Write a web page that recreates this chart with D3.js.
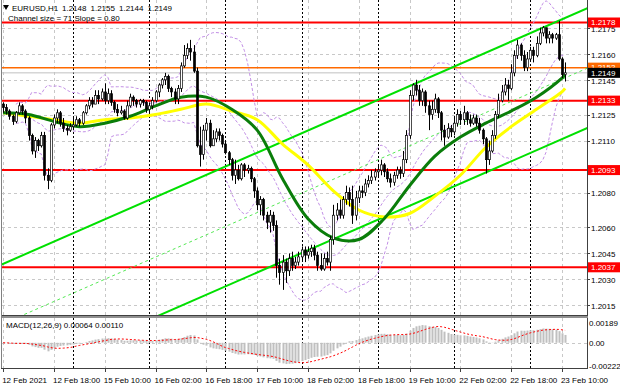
<!DOCTYPE html>
<html>
<head>
<meta charset="utf-8">
<title>EURUSD,H1</title>
<style>
  body { margin: 0; background: #fff; }
  svg { display: block; font-family: "Liberation Sans", Arial, sans-serif; }
</style>
<script src="https://d3js.org/d3.v7.min.js"></script>
</head>
<body>
<script>
// EURUSD H1, one value per hourly bar, 12 Feb 02:00 .. 23 Feb 11:00
var firstOpen = 1.2131;
var closes = [
  // 12 Feb
  1.2129, 1.2127, 1.2124, 1.2121, 1.2126, 1.2130, 1.2127, 1.2123, 1.2113, 1.2104, 1.2110, 1.2107, 1.2113, 1.2090, 1.2087, 1.2119, 1.2123, 1.2126, 1.2120, 1.2117, 1.2116, 1.2118,
  // 15 Feb
  1.2119, 1.2122, 1.2120, 1.2126, 1.2130, 1.2133, 1.2131, 1.2136, 1.2134, 1.2138, 1.2133, 1.2137, 1.2132, 1.2128, 1.2126, 1.2127, 1.2123, 1.2130, 1.2135, 1.2133, 1.2131, 1.2133, 1.2132, 1.2128,
  // 16 Feb
  1.2130, 1.2133, 1.2138, 1.2142, 1.2145, 1.2147, 1.2140, 1.2138, 1.2134, 1.2140, 1.2153, 1.2159, 1.2163, 1.2161, 1.2150, 1.2107, 1.2102, 1.2116, 1.2120, 1.2107, 1.2111, 1.2115, 1.2113, 1.2108,
  // 17 Feb
  1.2103, 1.2099, 1.2090, 1.2093, 1.2088, 1.2096, 1.2093, 1.2094, 1.2088, 1.2081, 1.2073, 1.2076, 1.2067, 1.2063, 1.2067, 1.2061, 1.2038, 1.2034, 1.2040, 1.2035, 1.2042, 1.2038, 1.2040, 1.2043,
  // 18 Feb
  1.2047, 1.2044, 1.2046, 1.2048, 1.2044, 1.2038, 1.2036, 1.2042, 1.2040, 1.2053, 1.2067, 1.2070, 1.2067, 1.2076, 1.2080, 1.2076, 1.2067, 1.2077, 1.2081, 1.2080, 1.2085, 1.2087, 1.2089, 1.2092,
  // 19 Feb
  1.2093, 1.2096, 1.2092, 1.2088, 1.2086, 1.2090, 1.2093, 1.2091, 1.2099, 1.2113, 1.2136, 1.2142, 1.2139, 1.2133, 1.2138, 1.2130, 1.2125, 1.2128, 1.2134, 1.2126, 1.2116, 1.2112, 1.2117, 1.2115,
  // 22 Feb
  1.2120, 1.2125, 1.2122, 1.2126, 1.2122, 1.2120, 1.2123, 1.2120, 1.2116, 1.2111, 1.2099, 1.2104, 1.2113, 1.2125, 1.2133, 1.2138, 1.2142, 1.2140, 1.2149, 1.2159, 1.2165, 1.2159, 1.2152, 1.2157,
  // 23 Feb
  1.2162, 1.2159, 1.2166, 1.2172, 1.2175, 1.2169, 1.2171, 1.2169, 1.2171, 1.2157, 1.2148, 1.2149
];
var highs = [
  1.2132, 1.2131, 1.2128, 1.2125, 1.2127, 1.2132, 1.2131, 1.2128, 1.2124, 1.2114, 1.2112, 1.2111, 1.2115, 1.2115, 1.2094, 1.2120, 1.2125, 1.2128, 1.2127, 1.2123, 1.2119, 1.2120,
  1.2123, 1.2124, 1.2123, 1.2127, 1.2131, 1.2135, 1.2135, 1.2139, 1.2139, 1.2140, 1.2143, 1.2140, 1.2139, 1.2133, 1.2131, 1.2130, 1.2128, 1.2133, 1.2137, 1.2136, 1.2134, 1.2134, 1.2134, 1.2133,
  1.2132, 1.2135, 1.2139, 1.2143, 1.2146, 1.2149, 1.2148, 1.2141, 1.2140, 1.2142, 1.2155, 1.2165, 1.2166, 1.2168, 1.2165, 1.2152, 1.2118, 1.2119, 1.2123, 1.2122, 1.2116, 1.2117, 1.2117, 1.2114,
  1.2110, 1.2104, 1.2100, 1.2099, 1.2096, 1.2097, 1.2097, 1.2096, 1.2095, 1.2089, 1.2083, 1.2078, 1.2077, 1.2069, 1.2070, 1.2069, 1.2064, 1.2042, 1.2044, 1.2042, 1.2045, 1.2046, 1.2043, 1.2046,
  1.2049, 1.2049, 1.2049, 1.2050, 1.2050, 1.2046, 1.2045, 1.2045, 1.2046, 1.2055, 1.2073, 1.2074, 1.2076, 1.2078, 1.2084, 1.2083, 1.2084, 1.2081, 1.2084, 1.2084, 1.2088, 1.2090, 1.2093, 1.2094,
  1.2096, 1.2099, 1.2097, 1.2094, 1.2091, 1.2092, 1.2095, 1.2095, 1.2104, 1.2116, 1.2139, 1.2143, 1.2145, 1.2142, 1.2140, 1.2139, 1.2133, 1.2133, 1.2137, 1.2135, 1.2127, 1.2119, 1.2120, 1.2119,
  1.2123, 1.2128, 1.2127, 1.2130, 1.2127, 1.2125, 1.2125, 1.2125, 1.2123, 1.2117, 1.2112, 1.2110, 1.2116, 1.2127, 1.2137, 1.2142, 1.2146, 1.2145, 1.2154, 1.2162, 1.2168, 1.2166, 1.2162, 1.2161,
  1.2164, 1.2164, 1.2170, 1.2175, 1.2176, 1.2174, 1.2173, 1.2172, 1.2172, 1.2179, 1.2158, 1.2155
];
var lows = [
  1.2126, 1.2125, 1.2122, 1.2119, 1.2120, 1.2125, 1.2125, 1.2120, 1.2110, 1.2102, 1.2100, 1.2104, 1.2106, 1.2087, 1.2082, 1.2086, 1.2117, 1.2120, 1.2118, 1.2115, 1.2113, 1.2115,
  1.2116, 1.2118, 1.2118, 1.2119, 1.2125, 1.2128, 1.2129, 1.2131, 1.2131, 1.2133, 1.2131, 1.2131, 1.2130, 1.2126, 1.2124, 1.2125, 1.2122, 1.2122, 1.2129, 1.2130, 1.2129, 1.2129, 1.2130, 1.2126,
  1.2126, 1.2128, 1.2132, 1.2135, 1.2140, 1.2142, 1.2138, 1.2135, 1.2131, 1.2131, 1.2138, 1.2152, 1.2157, 1.2156, 1.2149, 1.2106, 1.2095, 1.2099, 1.2110, 1.2106, 1.2107, 1.2109, 1.2110, 1.2106,
  1.2102, 1.2096, 1.2087, 1.2085, 1.2087, 1.2087, 1.2089, 1.2091, 1.2086, 1.2077, 1.2070, 1.2067, 1.2064, 1.2059, 1.2057, 1.2058, 1.2031, 1.2027, 1.2024, 1.2028, 1.2032, 1.2035, 1.2036, 1.2038,
  1.2041, 1.2040, 1.2042, 1.2043, 1.2041, 1.2035, 1.2035, 1.2035, 1.2038, 1.2035, 1.2050, 1.2064, 1.2065, 1.2065, 1.2073, 1.2072, 1.2062, 1.2064, 1.2074, 1.2077, 1.2078, 1.2083, 1.2085, 1.2087,
  1.2089, 1.2090, 1.2089, 1.2086, 1.2083, 1.2084, 1.2088, 1.2088, 1.2089, 1.2097, 1.2111, 1.2133, 1.2136, 1.2130, 1.2130, 1.2126, 1.2116, 1.2122, 1.2126, 1.2123, 1.2110, 1.2107, 1.2111, 1.2112,
  1.2113, 1.2118, 1.2119, 1.2119, 1.2119, 1.2118, 1.2119, 1.2118, 1.2114, 1.2108, 1.2091, 1.2096, 1.2103, 1.2111, 1.2123, 1.2132, 1.2136, 1.2133, 1.2139, 1.2147, 1.2157, 1.2156, 1.2150, 1.2150,
  1.2156, 1.2155, 1.2158, 1.2165, 1.2170, 1.2166, 1.2166, 1.2166, 1.2168, 1.2156, 1.2146, 1.2144
];

// moving averages every 8 bars (plus the last bar)
var maBars = [0, 8, 16, 24, 32, 40, 48, 56, 64, 72, 80, 88, 96, 104, 112, 120, 128, 136, 144, 152, 160, 168, 176, 177];
var ma30 = [1.2126, 1.2125, 1.2121, 1.2118, 1.2120, 1.2124, 1.2130, 1.2135, 1.2135, 1.2128, 1.2116, 1.2088, 1.2065, 1.2054, 1.2053, 1.2065, 1.2084, 1.2101, 1.2112, 1.2120, 1.2127, 1.2135, 1.2146, 1.2148];
var ma50 = [1.2126, 1.2124, 1.2122, 1.2120, 1.2122, 1.2123, 1.2125, 1.2128, 1.2131, 1.2127, 1.2122, 1.2108, 1.2096, 1.2081, 1.2070, 1.2066, 1.2068, 1.2078, 1.2090, 1.2106, 1.2118, 1.2128, 1.2138, 1.2140];

// horizontal levels
var redLevels = [1.2178, 1.2133, 1.2093, 1.2037];
var orangeLevel = 1.2152;
var bidPrice = 1.2149;

// regression channel: top line at bar 0, slope per bar, width
var channelStart = 1.2039, channelSlope = 0.00008, channelWidth = 0.0069;

var priceTicks = [1.2175, 1.2160, 1.2145, 1.2125, 1.2110, 1.2080, 1.2060, 1.2045, 1.2030, 1.2015];
var timeTickBars = [0, 16, 32, 48, 64, 80, 96, 112, 128, 144, 160, 176];
var timeLabels = ["12 Feb 2021", "12 Feb 18:00", "15 Feb 10:00", "16 Feb 02:00", "16 Feb 18:00", "17 Feb 10:00",
                  "18 Feb 02:00", "18 Feb 18:00", "19 Feb 10:00", "22 Feb 02:00", "22 Feb 18:00", "23 Feb 10:00"];
var dayStartBars = [22, 46, 70, 94, 118, 142, 166];
var macdTicks = [0.00189, 0, -0.00222];
var macdTickLabels = ["0.00189", "0.00", "-0.00222"];

var W = 620, H = 388;
var left = 2, right = 587, mainBottom = 315, macdTop = 318, macdBottom = 368;

var svg = d3.select("body").append("svg").attr("width", W).attr("height", H);

var x = d3.scaleLinear().domain([0, 177]).range([3.15, 565.1]);
var y = d3.scaleLinear().domain([1.2037, 1.2178]).range([267.3, 22.5]);
var ym = d3.scaleLinear().domain([-0.00222, 0.00189]).range([366, 323]);

var defs = svg.append("defs");
defs.append("clipPath").attr("id", "mainClip").append("rect")
  .attr("x", left).attr("y", 0).attr("width", right - left).attr("height", mainBottom);
defs.append("clipPath").attr("id", "macdClip").append("rect")
  .attr("x", left).attr("y", macdTop).attr("width", right - left).attr("height", macdBottom - macdTop);

var bars = closes.map(function(c, i) {
  var o = i === 0 ? firstOpen : closes[i - 1];
  return { i: i, o: o, c: c, h: Math.max(highs[i], o, c), l: Math.min(lows[i], o, c) };
});

// ---- grids
var grid = svg.append("g");
grid.selectAll(".hg").data(priceTicks).enter().append("line")
  .attr("x1", left).attr("x2", right)
  .attr("y1", function(d) { return Math.round(y(d)) + 0.5; })
  .attr("y2", function(d) { return Math.round(y(d)) + 0.5; })
  .attr("stroke", "#c8c8c8").attr("stroke-dasharray", "3,3");
grid.append("line").attr("x1", left).attr("x2", right)
  .attr("y1", Math.round(ym(0)) + 0.5).attr("y2", Math.round(ym(0)) + 0.5)
  .attr("stroke", "#c8c8c8").attr("stroke-dasharray", "3,3");
[[0, mainBottom], [macdTop, macdBottom]].forEach(function(span) {
  grid.selectAll(null).data(timeTickBars).enter().append("line")
    .attr("x1", function(d) { return Math.round(x(d)) + 0.5; })
    .attr("x2", function(d) { return Math.round(x(d)) + 0.5; })
    .attr("y1", span[0]).attr("y2", span[1])
    .attr("stroke", "#c8c8c8").attr("stroke-dasharray", "3,3");
  grid.selectAll(null).data(dayStartBars).enter().append("line")
    .attr("x1", function(d) { return Math.round(x(d)) + 0.5; })
    .attr("x2", function(d) { return Math.round(x(d)) + 0.5; })
    .attr("y1", span[0]).attr("y2", span[1])
    .attr("stroke", "#000").attr("stroke-dasharray", "2,2");
});

var main = svg.append("g").attr("clip-path", "url(#mainClip)");

// ---- bid line and levels
main.append("line").attr("x1", left).attr("x2", right)
  .attr("y1", y(bidPrice)).attr("y2", y(bidPrice)).attr("stroke", "#c0c0c0");
main.append("line").attr("x1", left).attr("x2", right)
  .attr("y1", y(orangeLevel)).attr("y2", y(orangeLevel))
  .attr("stroke", "#ff6a00").attr("stroke-width", 1.5);
main.selectAll(".lvl").data(redLevels).enter().append("line")
  .attr("x1", left).attr("x2", right)
  .attr("y1", function(d) { return y(d); }).attr("y2", function(d) { return y(d); })
  .attr("stroke", "#ff0000").attr("stroke-width", 2);

// ---- Bollinger bands (20, 2) from the closes
var bb = bars.map(function(d, i) {
  var win = closes.slice(Math.max(0, i - 19), i + 1);
  var m = d3.mean(win);
  var sd = Math.sqrt(d3.mean(win, function(v) { return (v - m) * (v - m); }));
  return { i: i, mid: m, up: m + 2 * sd, lo: m - 2 * sd };
}).filter(function(d) { return d.i >= 4; });
["up", "mid", "lo"].forEach(function(k) {
  main.append("path").datum(bb)
    .attr("d", d3.line().x(function(d) { return x(d.i); }).y(function(d) { return y(d[k]); }))
    .attr("fill", "none").attr("stroke", "#c28fe6").attr("stroke-dasharray", "3,2");
});

// ---- channel
var chan = function(off) {
  return d3.line().x(function(b) { return x(b); })
    .y(function(b) { return y(channelStart + channelSlope * b - off); })([-2, 185]);
};
main.append("path").attr("d", chan(0)).attr("stroke", "#00e000").attr("stroke-width", 2);
main.append("path").attr("d", chan(channelWidth)).attr("stroke", "#00e000").attr("stroke-width", 2);
main.append("path").attr("d", chan(channelWidth / 2)).attr("stroke", "#55e855")
  .attr("stroke-dasharray", "3,3");

// ---- moving averages
var maLine = function(vals) {
  return d3.line().curve(d3.curveCatmullRom.alpha(0.5))
    .x(function(d, i) { return x(maBars[i]); }).y(function(d) { return y(d); })(vals);
};
main.append("path").attr("d", maLine(ma50)).attr("fill", "none")
  .attr("stroke", "#ffff00").attr("stroke-width", 3);
main.append("path").attr("d", maLine(ma30)).attr("fill", "none")
  .attr("stroke", "#0a7d0a").attr("stroke-width", 3);

// ---- candles
var cg = main.append("g");
cg.selectAll(".wick").data(bars).enter().append("line")
  .attr("x1", function(d) { return Math.round(x(d.i)) + 0.5; })
  .attr("x2", function(d) { return Math.round(x(d.i)) + 0.5; })
  .attr("y1", function(d) { return y(d.h); }).attr("y2", function(d) { return y(d.l); })
  .attr("stroke", "#000");
cg.selectAll(".body").data(bars).enter().append("rect")
  .attr("x", function(d) { return Math.round(x(d.i)) - 0.5; })
  .attr("width", 2)
  .attr("y", function(d) { return y(Math.max(d.o, d.c)); })
  .attr("height", function(d) { return Math.max(1, Math.abs(y(d.o) - y(d.c))); })
  .attr("fill", function(d) { return d.c >= d.o ? "#fff" : "#000"; })
  .attr("stroke", "#000").attr("stroke-width", 0.7);

// ---- MACD (12,26,9) from the closes
var e12 = closes[0], e26 = closes[0], macd = [];
closes.forEach(function(c) {
  e12 += (c - e12) * 2 / 13;
  e26 += (c - e26) * 2 / 27;
  macd.push(e12 - e26);
});
var signal = macd.map(function(v, i) { return d3.mean(macd.slice(Math.max(0, i - 8), i + 1)); });

var mg = svg.append("g").attr("clip-path", "url(#macdClip)");
mg.selectAll("rect").data(macd).enter().append("rect")
  .attr("x", function(d, i) { return Math.round(x(i)) - 0.5; })
  .attr("width", 2)
  .attr("y", function(d) { return Math.min(ym(d), ym(0)); })
  .attr("height", function(d) { return Math.abs(ym(d) - ym(0)); })
  .attr("fill", "#c0c0c0");
mg.append("path").datum(signal)
  .attr("d", d3.line().x(function(d, i) { return x(i); }).y(function(d) { return ym(d); }))
  .attr("fill", "none").attr("stroke", "#ff0000").attr("stroke-dasharray", "2,2");

// ---- frame
svg.append("line").attr("x1", 1.5).attr("x2", 1.5).attr("y1", 0).attr("y2", macdBottom).attr("stroke", "#808080");
svg.append("line").attr("x1", right + 0.5).attr("x2", right + 0.5).attr("y1", 0).attr("y2", macdBottom + 1).attr("stroke", "#404040");
svg.append("rect").attr("x", left).attr("y", mainBottom).attr("width", right - left + 1).attr("height", 3).attr("fill", "#909090");
svg.append("line").attr("x1", left).attr("x2", right + 1).attr("y1", mainBottom + 0.5).attr("y2", mainBottom + 0.5).attr("stroke", "#404040");
svg.append("line").attr("x1", 1).attr("x2", right + 1).attr("y1", macdBottom + 0.5).attr("y2", macdBottom + 0.5).attr("stroke", "#404040");

// ---- axes text
var txt = svg.append("g").attr("font-size", 8).attr("fill", "#000");
txt.selectAll(".pt").data(priceTicks).enter().append("text")
  .attr("x", 591).attr("y", function(d) { return y(d) + 1; }).attr("dy", "0.35em")
  .text(function(d) { return d.toFixed(4); });
svg.selectAll(".ptk").data(priceTicks).enter().append("line")
  .attr("x1", right).attr("x2", right + 3)
  .attr("y1", function(d) { return Math.round(y(d)) + 0.5; })
  .attr("y2", function(d) { return Math.round(y(d)) + 0.5; }).attr("stroke", "#404040");
txt.selectAll(".mt").data(macdTicks).enter().append("text")
  .attr("x", 589).attr("y", function(d) { return ym(d); }).attr("dy", "0.35em")
  .text(function(d, i) { return macdTickLabels[i]; });
txt.selectAll(".tl").data(timeTickBars).enter().append("text")
  .attr("x", function(d) { return x(d) - 1; }).attr("y", 383)
  .text(function(d, i) { return timeLabels[i]; });
svg.selectAll(".ttk").data(timeTickBars).enter().append("line")
  .attr("x1", function(d) { return Math.round(x(d)) + 0.5; })
  .attr("x2", function(d) { return Math.round(x(d)) + 0.5; })
  .attr("y1", macdBottom).attr("y2", macdBottom + 4).attr("stroke", "#404040");

// level boxes on the price axis
function priceBox(v, fill, label) {
  var g = svg.append("g");
  g.append("rect").attr("x", right + 1).attr("y", y(v) - 5).attr("width", W - right - 1).attr("height", 10).attr("fill", fill);
  g.append("text").attr("x", 591).attr("y", y(v)).attr("dy", "0.35em")
    .attr("font-size", 8).attr("fill", "#fff").text(label);
}
redLevels.forEach(function(v) { priceBox(v, "#ff0000", v.toFixed(4)); });
priceBox(orangeLevel, "#ff6a00", orangeLevel.toFixed(4));
priceBox(bidPrice, "#000", bidPrice.toFixed(4));

// ---- header
var last = bars[bars.length - 1];
svg.append("path").attr("d", "M3,5 L9,5 L6,10 Z").attr("fill", "#000");
txt.append("text").attr("x", 12).attr("y", 11).text("EURUSD,H1");
[last.o, last.h, last.l, last.c].forEach(function(v, i) {
  txt.append("text").attr("x", 62 + i * 28.5).attr("y", 11).text(v.toFixed(4));
});
txt.append("text").attr("x", 8).attr("y", 20.5).text("Channel size = 71 Slope = 0.80");
txt.append("text").attr("x", 6).attr("y", 328).text("MACD(12,26,9) 0.00064 0.00110");
</script>
</body>
</html>
